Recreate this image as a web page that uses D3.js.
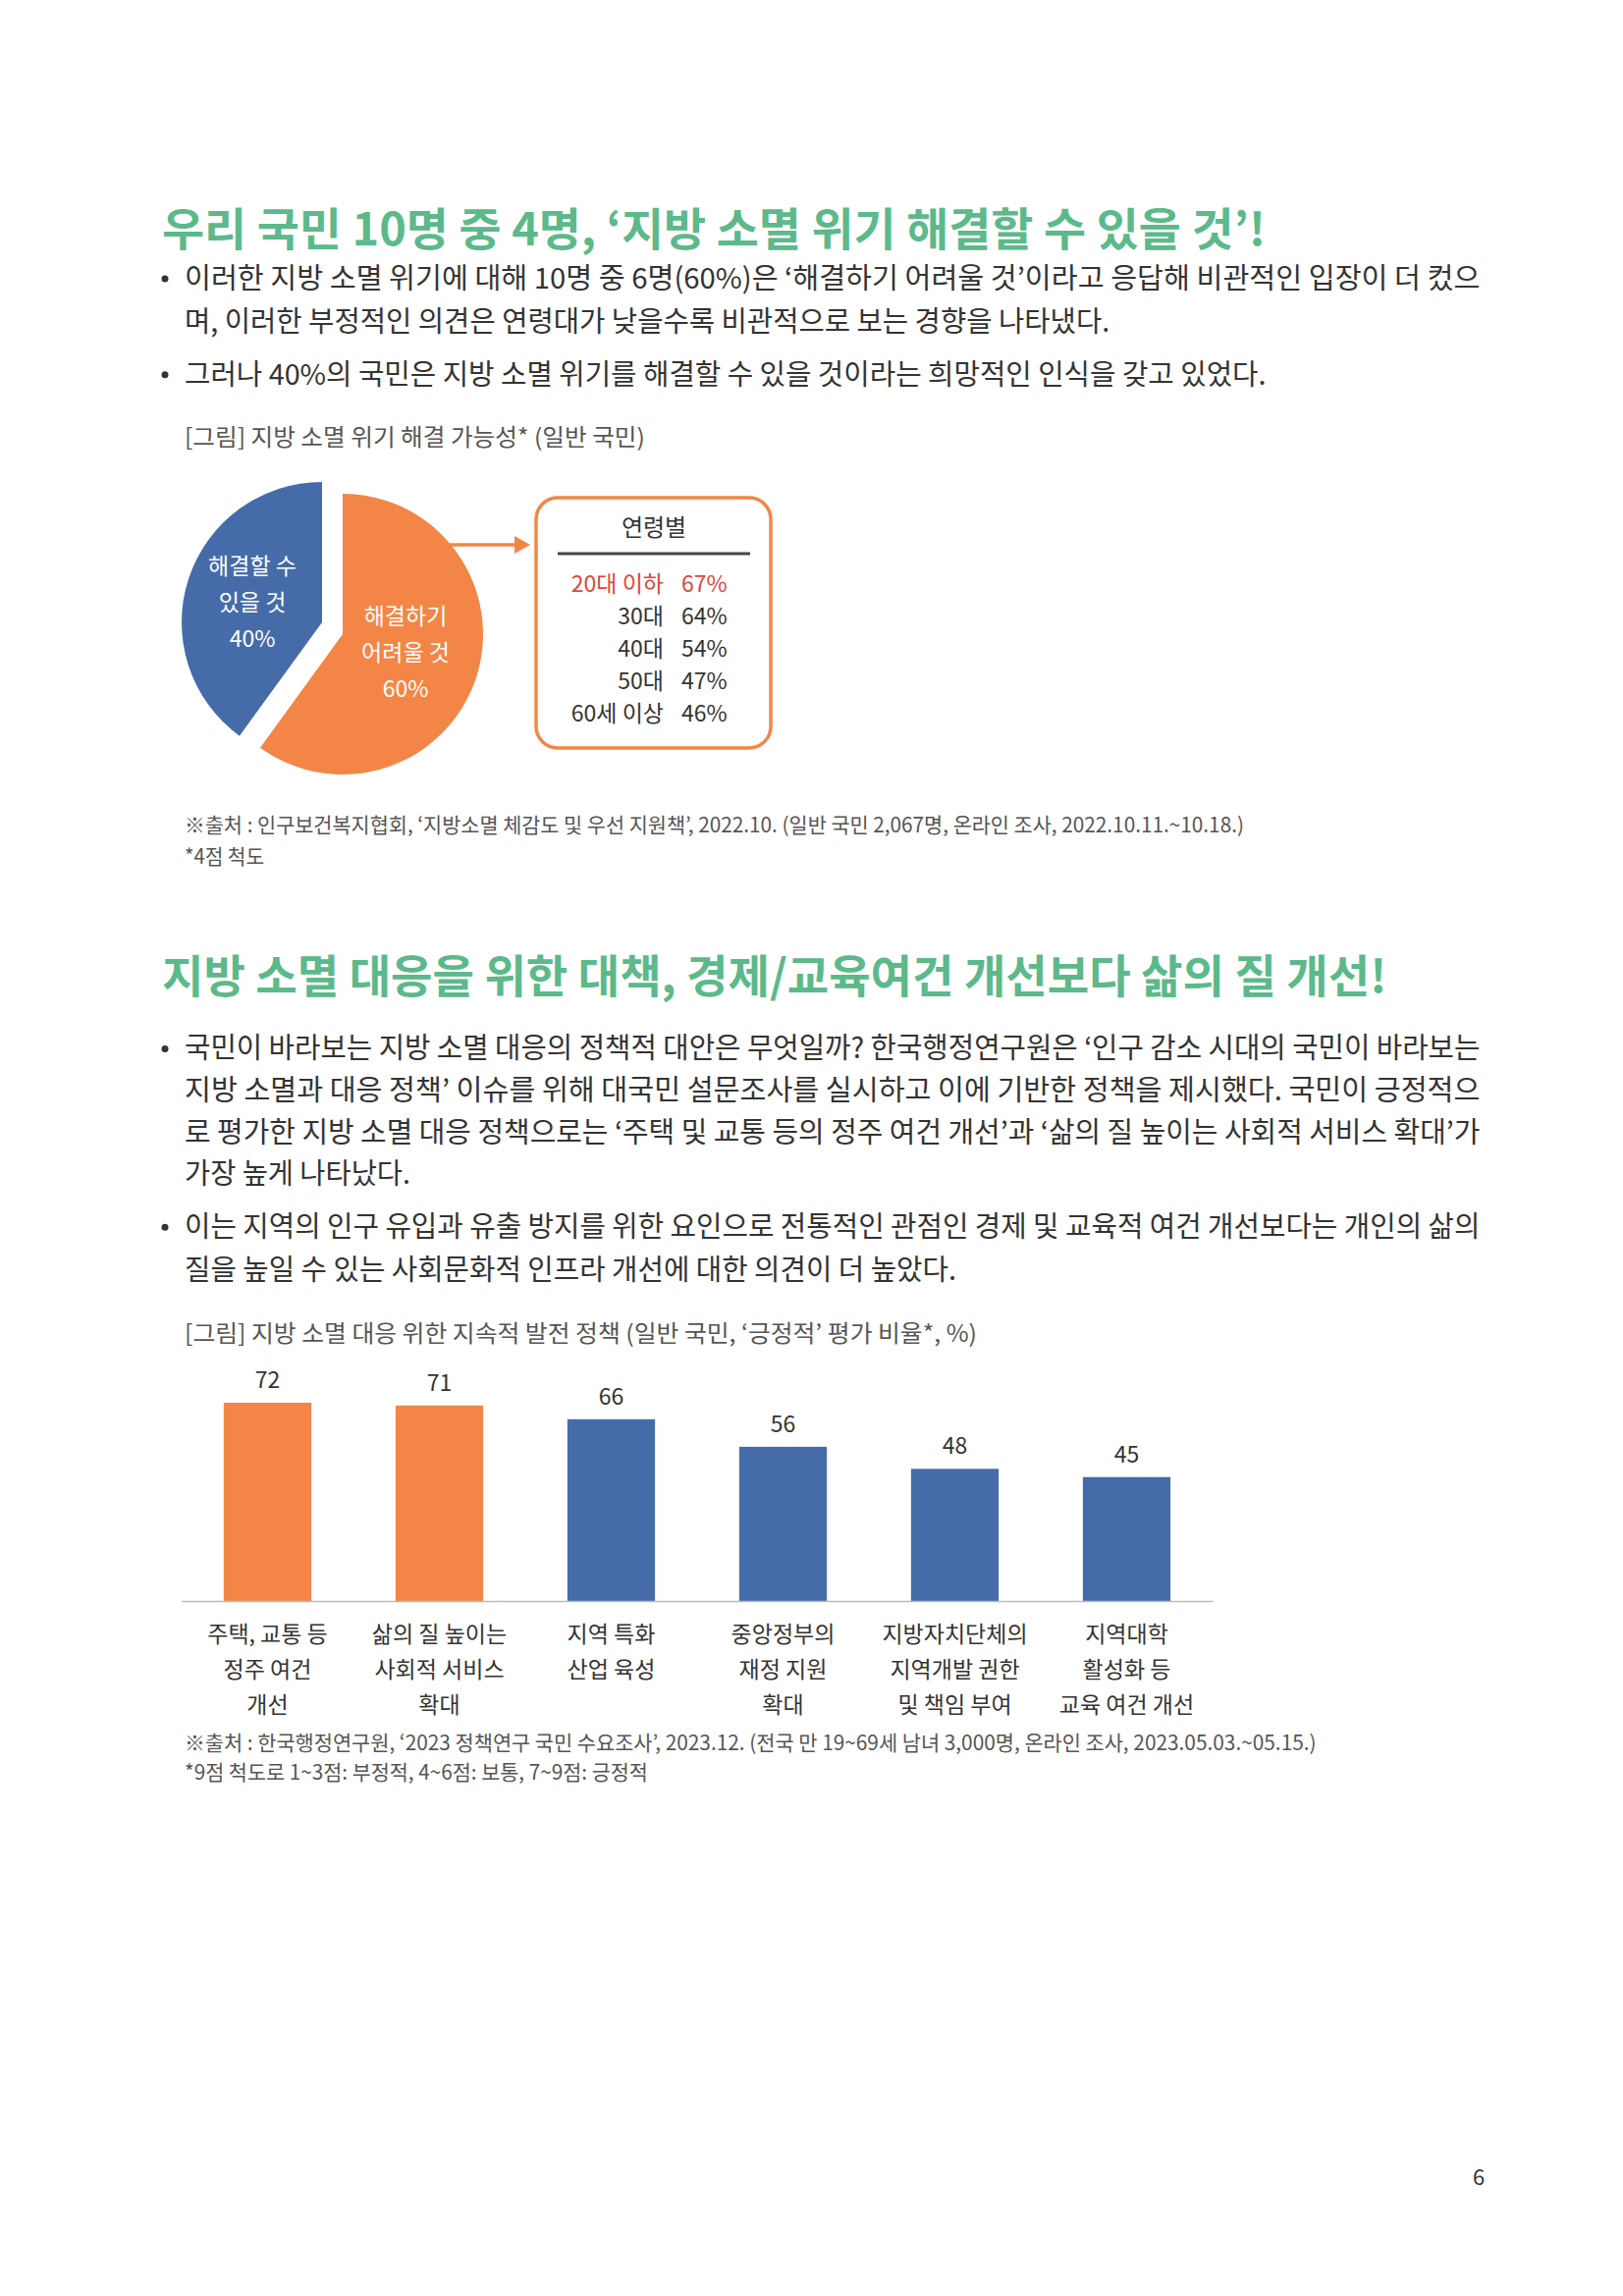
<!DOCTYPE html>
<html><head><meta charset="utf-8">
<script src="https://cdn.jsdelivr.net/npm/d3@7"></script>
<style>body{margin:0;background:#fff}svg{display:block;font-family:"Noto Sans CJK KR","Noto Sans",sans-serif}</style>
</head><body>
<script>
// ---- data ----
const pieLabels = [["해결하기","어려울 것","60%"],["해결할 수","있을 것","40%"]];
const pieValues = [60, 40];
const ageGroups = ["20대 이하","30대","40대","50대","60세 이상"];
const ageValues = [67, 64, 54, 47, 46];
const barCategories = [["주택, 교통 등","정주 여건","개선"],["삶의 질 높이는","사회적 서비스","확대"],["지역 특화","산업 육성"],["중앙정부의","재정 지원","확대"],["지방자치단체의","지역개발 권한","및 책임 부여"],["지역대학","활성화 등","교육 여건 개선"]];
const barValues = [72, 71, 66, 56, 48, 45];

const W=1653,H=2339;
const GREEN="#5cb98a", ORANGE="#f38646", BLUE="#456ca8", TXT="#333", GRAY="#555";
const svg=d3.select("body").append("svg").attr("width",W).attr("height",H);

function txt(x,y,s,size,opt={}){
  const t=svg.append("text").attr("x",x).attr("y",y).text(s).attr("font-size",size)
    .attr("fill",opt.fill||TXT).attr("text-anchor",opt.anchor||"start");
  if(opt.w){t.attr("textLength",opt.w).attr("lengthAdjust","spacingAndGlyphs");}
  if(opt.weight)t.attr("font-weight",opt.weight);
  return t;
}
const P=1653/1100;
// Section 1
txt(165,250,"우리 국민 10명 중 4명, ‘지방 소멸 위기 해결할 수 있을 것’!",46,{fill:GREEN,weight:700,w:(858-110)*P});
const b1=[["이러한 지방 소멸 위기에 대해 10명 중 6명(60%)은 ‘해결하기 어려울 것’이라고 응답해 비관적인 입장이 더 컸으",1003,189,true],
["며, 이러한 부정적인 의견은 연령대가 낮을수록 비관적으로 보는 경향을 나타냈다.",752,218,false],
["그러나 40%의 국민은 지방 소멸 위기를 해결할 수 있을 것이라는 희망적인 인식을 갖고 있었다.",858,254,true]];
function bullets(arr){arr.forEach(([s,end,y,dot])=>{
  txt(188,y*P+10,s,29,{w:(end-125)*P});
  if(dot)svg.append("circle").attr("cx",168).attr("cy",y*P).attr("r",3.5).attr("fill",TXT);
});}
bullets(b1);
txt(188,454,"[그림] 지방 소멸 위기 해결 가능성* (일반 국민)",24,{fill:GRAY,w:(437-125)*P});

// Pie
const pie=d3.pie().sort(null).value(d=>d)(pieValues);
const arc=d3.arc().innerRadius(0).outerRadius(143);
const centers=[[349,646],[328,634]];
const cols=[ORANGE,BLUE];
pie.forEach((p,i)=>{
  const g=svg.append("g").attr("transform",`translate(${centers[i]})`);
  g.append("path").attr("d",arc(p)).attr("fill",cols[i]);
});
const lblPos=[[413,628],[257,577]];
pieLabels.forEach((ls,i)=>ls.forEach((l,j)=>{
  txt(lblPos[i][0],lblPos[i][1]+j*37+8,l,23,{fill:"#fff",anchor:"middle"});
}));
// arrow
svg.append("line").attr("x1",458).attr("y1",555).attr("x2",528).attr("y2",555).attr("stroke",ORANGE).attr("stroke-width",3.5);
svg.append("path").attr("d","M524,546 L540,555 L524,564 Z").attr("fill",ORANGE);
// box
svg.append("rect").attr("x",546).attr("y",507).attr("width",239).attr("height",255).attr("rx",22)
  .attr("fill","#fff").attr("stroke",ORANGE).attr("stroke-width",3.5);
txt(666,546,"연령별",24,{anchor:"middle"});
svg.append("line").attr("x1",568).attr("x2",764).attr("y1",564).attr("y2",564).attr("stroke","#444").attr("stroke-width",3);
const ry=d3.scalePoint().domain(ageGroups).range([595,727]);
ageGroups.forEach((a,i)=>{
  const c=i===0?"#e0463a":TXT;
  txt(676,ry(a)+8,a,23,{anchor:"end",fill:c});
  txt(694,ry(a)+8,ageValues[i]+"%",23,{fill:c});
});
txt(188,848,"※출처 : 인구보건복지협회, ‘지방소멸 체감도 및 우선 지원책’, 2022.10. (일반 국민 2,067명, 온라인 조사, 2022.10.11.~10.18.)",21,{fill:GRAY,w:(843-125)*P});
txt(188,880,"*4점 척도",21,{fill:GRAY,w:(179-125)*P});

// Section 2
txt(165,1011,"지방 소멸 대응을 위한 대책, 경제/교육여건 개선보다 삶의 질 개선!",46,{fill:GREEN,weight:700,w:(940-110)*P});
bullets([
["국민이 바라보는 지방 소멸 대응의 정책적 대안은 무엇일까? 한국행정연구원은 ‘인구 감소 시대의 국민이 바라보는",1003,711,true],
["지방 소멸과 대응 정책’ 이슈를 위해 대국민 설문조사를 실시하고 이에 기반한 정책을 제시했다. 국민이 긍정적으",1003,739,false],
["로 평가한 지방 소멸 대응 정책으로는 ‘주택 및 교통 등의 정주 여건 개선’과 ‘삶의 질 높이는 사회적 서비스 확대’가",1003,768,false],
["가장 높게 나타났다.",278,796,false],
["이는 지역의 인구 유입과 유출 방지를 위한 요인으로 전통적인 관점인 경제 및 교육적 여건 개선보다는 개인의 삶의",1003,832,true],
["질을 높일 수 있는 사회문화적 인프라 개선에 대한 의견이 더 높았다.",648,861,false]]);
txt(188,1367,"[그림] 지방 소멸 대응 위한 지속적 발전 정책 (일반 국민, ‘긍정적’ 평가 비율*, %)",24,{fill:GRAY,w:(662-125)*P});

// Bars
const x=d3.scaleBand().domain(d3.range(barValues.length)).range([185,1235]).paddingInner(0.49).paddingOuter(0.245);
const y=d3.scaleLinear().domain([0,72]).range([1631,1429]);
svg.selectAll("rect.bar").data(barValues).enter().append("rect").attr("class","bar")
  .attr("x",(d,i)=>x(i)).attr("width",x.bandwidth()).attr("y",d=>y(d)).attr("height",d=>y(0)-y(d))
  .attr("fill",(d,i)=>i<2?ORANGE:BLUE);
barValues.forEach((d,i)=>txt(x(i)+x.bandwidth()/2,y(d)-15,String(d),23,{anchor:"middle"}));
const axis=svg.append("g").attr("transform","translate(0,1631)").call(d3.axisBottom(x).tickSize(0).tickFormat(""));
axis.select(".domain").attr("stroke","#bbb").attr("stroke-width",1.5);
barCategories.forEach((ls,i)=>ls.forEach((l,j)=>txt(x(i)+x.bandwidth()/2,1673+j*36,l,23,{anchor:"middle"})));
txt(188,1783,"※출처 : 한국행정연구원, ‘2023 정책연구 국민 수요조사’, 2023.12. (전국 만 19~69세 남녀 3,000명, 온라인 조사, 2023.05.03.~05.15.)",21,{fill:GRAY,w:(892-125)*P});
txt(188,1813,"*9점 척도로 1~3점: 부정적, 4~6점: 보통, 7~9점: 긍정적",21,{fill:GRAY,w:(439-125)*P});
txt(1506,2226,"6",22,{anchor:"middle"});
</script>
</body></html>
